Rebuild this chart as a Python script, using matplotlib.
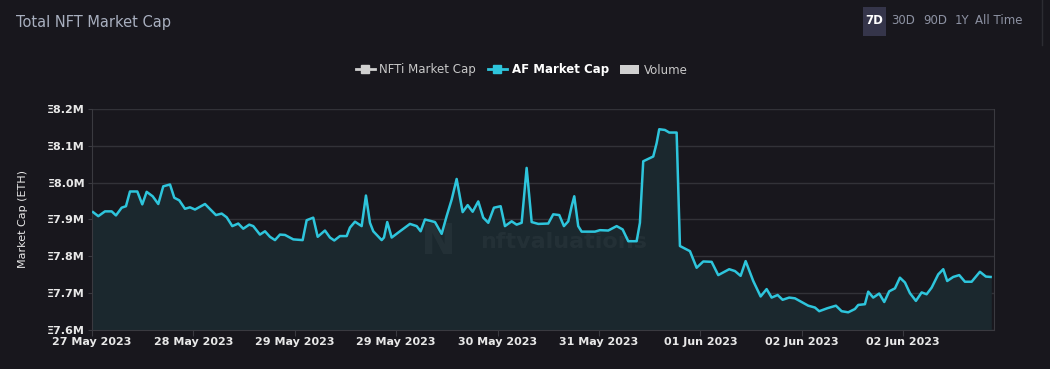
import matplotlib.pyplot as plt
from matplotlib.lines import Line2D
from matplotlib.patches import Patch, FancyBboxPatch

# hours since start of the 7D window
hours = [0.2, 1.18, 2.43, 3.68, 4.48, 5.55, 6.35, 7.10, 8.47, 9.40, 10.22, 11.34, 12.39, 13.32,
         14.58, 15.38, 16.31, 17.38, 18.31, 19.25, 21.12, 23.17, 24.24, 25.17, 26.22, 27.34,
         28.27, 29.39, 30.14, 31.39, 32.33, 33.26, 34.20, 35.13, 36.07, 37.62, 39.37, 40.12,
         41.35, 42.18, 43.54, 44.48, 45.28, 46.34, 47.60, 48.21, 49.15, 50.40, 51.20, 51.95,
         52.57, 54.14, 54.57, 55.18, 56.01, 57.56, 59.42, 60.68, 61.42, 62.23, 64.10, 65.35,
         66.28, 67.22, 68.15, 69.27, 70.21, 71.14, 72.19, 73.12, 74.06, 75.12, 76.37, 77.18,
         78.43, 79.36, 80.30, 81.23, 82.17, 83.40, 85.27, 86.20, 87.33, 88.20, 89.01, 89.64,
         90.13, 90.87, 91.51, 94.00, 94.93, 96.48, 98.05, 99.17, 100.22, 101.79, 102.40,
         103.02, 104.89, 105.52, 106.01, 107.07, 107.88, 109.26, 109.88, 111.75, 113.00,
         114.24, 115.80, 117.04, 119.09, 120.16, 121.22, 122.16, 123.58, 124.96, 126.08,
         127.02, 128.14, 129.07, 130.30, 131.37, 132.62, 133.86, 135.11, 135.91, 137.41,
         139.03, 140.10, 141.33, 142.58, 143.20, 144.45, 145.07, 146.00, 147.12, 148.06,
         148.99, 150.06, 150.99, 151.93, 152.86, 153.98, 155.05, 155.98, 156.92, 158.15,
         159.09, 159.83, 160.95, 162.08, 163.14, 164.39, 165.94, 167.06, 167.94]

# AF market cap, million ETH
af_cap = [7.920, 7.909, 7.922, 7.922, 7.911, 7.932, 7.936, 7.976, 7.976, 7.941, 7.975, 7.963,
          7.942, 7.990, 7.995, 7.959, 7.952, 7.929, 7.933, 7.927, 7.942, 7.912, 7.916, 7.906,
          7.882, 7.889, 7.875, 7.886, 7.882, 7.859, 7.868, 7.853, 7.844, 7.859, 7.858, 7.846,
          7.844, 7.898, 7.905, 7.853, 7.870, 7.851, 7.843, 7.855, 7.855, 7.878, 7.894, 7.882,
          7.965, 7.891, 7.868, 7.844, 7.851, 7.893, 7.851, 7.868, 7.888, 7.882, 7.868, 7.900,
          7.893, 7.861, 7.909, 7.954, 8.010, 7.920, 7.939, 7.921, 7.949, 7.905, 7.891, 7.932,
          7.936, 7.882, 7.895, 7.886, 7.891, 8.040, 7.893, 7.888, 7.889, 7.914, 7.912, 7.882,
          7.895, 7.936, 7.963, 7.882, 7.867, 7.867, 7.871, 7.870, 7.882, 7.873, 7.841, 7.841,
          7.891, 8.058, 8.071, 8.107, 8.145, 8.143, 8.136, 8.136, 7.828, 7.814, 7.769, 7.786,
          7.785, 7.749, 7.765, 7.760, 7.747, 7.787, 7.733, 7.691, 7.711, 7.688, 7.695, 7.682,
          7.688, 7.686, 7.676, 7.666, 7.661, 7.651, 7.659, 7.666, 7.651, 7.648, 7.657, 7.668,
          7.670, 7.704, 7.688, 7.699, 7.676, 7.705, 7.713, 7.742, 7.729, 7.700, 7.679, 7.702,
          7.697, 7.715, 7.751, 7.765, 7.733, 7.744, 7.749, 7.731, 7.731, 7.758, 7.745, 7.744]

tick_labels = ['27 May 2023', '28 May 2023', '29 May 2023', '29 May 2023', '30 May 2023',
               '31 May 2023', '01 Jun 2023', '02 Jun 2023', '02 Jun 2023']
y_ticks = [7.6, 7.7, 7.8, 7.9, 8.0, 8.1, 8.2]
periods = ['7D', '30D', '90D', '1Y', 'All Time']

bg = '#18171d'
cyan = '#2ec5dc'
grid_c = '#323238'

fig = plt.figure(figsize=(10.5, 3.69), dpi=100, facecolor=bg)
ax = fig.add_axes([0.0876, 0.1057, 0.859, 0.599], facecolor=bg)

ax.fill_between(hours, af_cap, 7.6, color='#1b282e', zorder=1)
ax.plot(hours, af_cap, color=cyan, linewidth=1.8, zorder=3, solid_joinstyle='round')

ax.set_xlim(0, 168.56)
ax.set_ylim(7.6, 8.2)
ax.set_yticks(y_ticks)
ax.set_yticklabels(['Ξ%.1fM' % v for v in y_ticks])
ax.set_xticks([i * 18.95 for i in range(len(tick_labels))])
ax.set_xticklabels(tick_labels)
ax.grid(axis='y', color=grid_c, linewidth=1)
ax.set_axisbelow(True)

for s in ax.spines.values():
    s.set_color('#3a3a40')
ax.spines['top'].set_visible(False)
ax.tick_params(axis='x', colors='#3a3a40', labelcolor='#e8e8e8', length=4, pad=1, labelsize=8)
ax.tick_params(axis='y', colors='#3a3a40', labelcolor='#e8e8e8', length=3, pad=2, labelsize=8)
for t in ax.get_xticklabels() + ax.get_yticklabels():
    t.set_fontweight('semibold')

ax.set_ylabel('Market Cap (ETH)', color='#e8e8e8', fontsize=8, labelpad=14)

# watermark
ax.text(0.43, 0.4, 'nftvaluations', transform=ax.transAxes, ha='left', va='center',
        fontsize=16, fontweight='bold', color='#ffffff', alpha=0.04, zorder=2)
ax.text(0.364, 0.4, 'N', transform=ax.transAxes, ha='left', va='center',
        fontsize=30, fontweight='bold', color='#ffffff', alpha=0.04, zorder=2)

fig.text(16 / 1050, 1 - 22 / 369, 'Total NFT Market Cap', color='#a8afbf', fontsize=10.5,
         va='center', ha='left')

# period buttons
xs = [874, 903, 935, 962, 999]
for x, p in zip(xs, periods):
    fig.text(x / 1050, 1 - 21 / 369, p, color='white' if p == '7D' else '#8d92a3',
             fontsize=8.5, fontweight='bold' if p == '7D' else 'normal', ha='center', va='center')
fig.patches.append(FancyBboxPatch((863 / 1050, 1 - 36 / 369), 23 / 1050, 29 / 369,
                                  boxstyle='square,pad=0', transform=fig.transFigure,
                                  facecolor='#35354a', edgecolor='none', zorder=0))
fig.add_artist(Line2D([1042 / 1050, 1042 / 1050], [1, 1 - 45 / 369], color='#2c2c32', linewidth=1))

handles = [Line2D([], [], color='#d0d0d0', marker='s', markersize=6, linewidth=2),
           Line2D([], [], color=cyan, marker='s', markersize=6, linewidth=2),
           Patch(facecolor='#d0d0d0', edgecolor='none')]
leg = fig.legend(handles, ['NFTi Market Cap', 'AF Market Cap', 'Volume'], loc='center',
                 bbox_to_anchor=(0.497, 1 - 70 / 369), ncol=3, frameon=False, fontsize=8.5,
                 handlelength=1.6, handletextpad=0.4, columnspacing=1.0)
for t, c, w in zip(leg.get_texts(), ['#c8c8c8', 'white', '#c8c8c8'], ['normal', 'bold', 'normal']):
    t.set_color(c)
    t.set_fontweight(w)

fig.savefig('out.png', facecolor=bg)
